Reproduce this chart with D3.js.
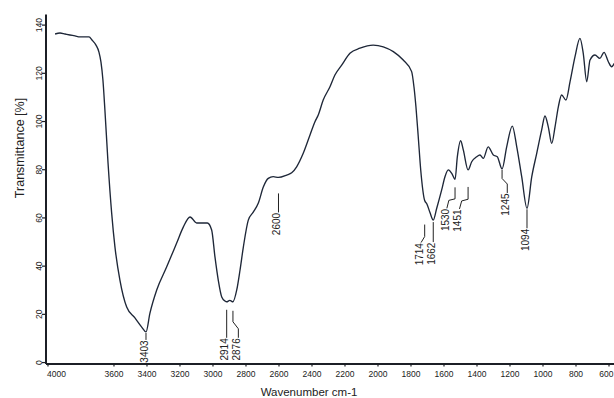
<!DOCTYPE html>
<html>
<head>
<meta charset="utf-8">
<script src="https://cdn.jsdelivr.net/npm/d3@7"></script>
<style>
  html, body { margin: 0; background: #fff; }
  svg { display: block; }
  text { font-family: Arial, "Liberation Sans", Helvetica, sans-serif; }
</style>
</head>
<body>
<svg id="chart" width="614" height="398"></svg>
<script>
// FTIR spectrum: wavenumber (cm-1) against transmittance (%)
const wavenumber = [
  3954, 3924, 3894, 3864, 3833, 3803, 3767, 3748, 3730, 3706,
  3688, 3676, 3664, 3652, 3633, 3611, 3591, 3561, 3520, 3470,
  3429, 3403, 3379, 3338, 3278, 3217, 3177, 3136, 3096, 3065,
  3031, 3005, 2985, 2965, 2944, 2924, 2914, 2895, 2876, 2853,
  2833, 2813, 2783, 2753, 2722, 2692, 2662, 2632, 2600, 2550,
  2520, 2490, 2450, 2409, 2379, 2359, 2329, 2288, 2258, 2217,
  2167, 2106, 2026, 1965, 1904, 1844, 1793, 1779, 1767, 1753,
  1738, 1714, 1700, 1682, 1662, 1641, 1611, 1591, 1571, 1550,
  1530, 1516, 1496, 1480, 1451, 1429, 1399, 1379, 1359, 1329,
  1298, 1274, 1245, 1217, 1183, 1156, 1126, 1094, 1065, 1035,
  1005, 985, 965, 944, 924, 904, 884, 858, 833, 803,
  773, 753, 732, 712, 682, 652, 627, 601, 581, 565
];
const transmittance = [
  136.1, 136.5, 136.1, 135.7, 135.3, 134.9, 134.9, 134.9, 133.6, 131.5,
  128.6, 124.5, 117.0, 104.6, 82.6, 61.8, 47.7, 34.0, 22.8, 18.3,
  14.5, 12.5, 20.3, 29.9, 39.4, 49.4, 56.0, 60.2, 57.7, 57.7,
  57.7, 54.8, 43.6, 34.0, 27.0, 25.3, 25.0, 25.6, 25.0, 29.9,
  38.2, 47.7, 58.9, 62.2, 66.0, 72.6, 76.2, 76.9, 76.6, 77.6,
  78.5, 81.0, 86.6, 94.2, 99.7, 102.5, 108.7, 114.2, 119.1, 123.2,
  128.1, 130.2, 131.5, 130.8, 128.8, 125.3, 120.5, 114.2, 105.9, 93.5,
  79.7, 67.0, 65.5, 62.0, 58.9, 63.8, 71.4, 76.9, 79.7, 78.3,
  75.8, 85.2, 91.8, 88.0, 79.7, 83.1, 85.2, 85.9, 84.5, 89.3,
  85.9, 85.2, 80.1, 89.3, 97.9, 89.3, 76.9, 63.8, 76.9, 86.6,
  96.3, 102.1, 97.6, 90.7, 97.6, 105.9, 110.8, 108.7, 116.3, 126.7,
  134.3, 128.1, 116.3, 125.3, 127.4, 126.0, 128.5, 124.6, 122.5, 123.9
];

const tickWavenumbers = [4000, 3600, 3400, 3200, 3000, 2800, 2600, 2400, 2200, 2000, 1800, 1600, 1400, 1200, 1000, 800, 600];
const tickTransmittance = [0, 20, 40, 60, 80, 100, 120, 140];

// Assigned bands
const peakLabels = ["3403", "2914", "2876", "2600", "1714", "1662", "1530", "1451", "1245", "1094"];
const peakWavenumbers = [3403, 2914, 2876, 2600, 1714, 1662, 1530, 1451, 1245, 1094];

// Leader-line layout for each band label (pixel offsets):
// shift = label x offset from band, drop = label top below curve,
// gap = space left above leader, lean/rise/bend = kink shape
const leaderLayout = [
  { shift: 0,    drop: 8,  gap: 1,  lean: 0,   rise: 0, bend: 0 },
  { shift: 0,    drop: 36, gap: 8,  lean: 0,   rise: 0, bend: 0 },
  { shift: 5.4,  drop: 36, gap: 9,  lean: 0,   rise: 9, bend: 7 },
  { shift: 0,    drop: 35, gap: 16, lean: 0,   rise: 0, bend: 0 },
  { shift: -3.6, drop: 42, gap: 24, lean: 0,   rise: 0, bend: 6 },
  { shift: 0,    drop: 22, gap: 2,  lean: 0,   rise: 0, bend: 0 },
  { shift: -8.2, drop: 29, gap: 8,  lean: 2,   rise: 8, bend: 1.5 },
  { shift: -8.6, drop: 39, gap: 17, lean: 2.2, rise: 8, bend: 1.7 },
  { shift: 5.2,  drop: 24, gap: 1,  lean: 0,   rise: 9, bend: 5.5 },
  { shift: 0,    drop: 20, gap: 1,  lean: 0,   rise: 0, bend: 0 }
];

const svg = d3.select("#chart");
const ink = "#1c1f26";

const x = d3.scaleLinear().domain([4012, 560]).range([45.5, 615.1]);
const y = d3.scaleLinear().domain([-0.6, 144.4]).range([363.5, 14]);

// X axis
const xAxis = svg.append("g")
  .attr("transform", `translate(0,${y(-0.6)})`)
  .call(d3.axisBottom(x).tickValues(tickWavenumbers).tickFormat(d3.format("d"))
    .tickSize(3).tickPadding(4.5).tickSizeOuter(0));
xAxis.select(".domain").attr("stroke", ink).attr("stroke-width", 2);
xAxis.selectAll(".tick line").attr("stroke", ink).attr("stroke-width", 1.2);
const xLabels = xAxis.selectAll(".tick text")
  .attr("fill", "#222").attr("font-size", 8.5)
  .attr("font-family", "Arial, 'Liberation Sans', sans-serif");
// first label starts at its tick, last one is kept inside the right edge
xLabels.filter(d => d === 4000).attr("text-anchor", "start").attr("x", -1);
xLabels.filter(d => d === 600).attr("text-anchor", "end").attr("x", 613 - x(600));

// Y axis
const yAxis = svg.append("g")
  .attr("transform", `translate(${x(4012)},0)`)
  .call(d3.axisLeft(y).tickValues(tickTransmittance).tickSize(3.5).tickSizeOuter(0).tickFormat(d3.format("d")));
yAxis.select(".domain").attr("stroke", ink).attr("stroke-width", 2);
yAxis.selectAll(".tick line").attr("stroke", ink).attr("stroke-width", 1.2);
yAxis.selectAll(".tick text")
  .attr("x", null).attr("dy", null)
  .attr("fill", "#222").attr("font-size", 8.5)
  .attr("font-family", "Arial, 'Liberation Sans', sans-serif")
  .attr("text-anchor", "middle")
  .attr("transform", "translate(-3.5,0) rotate(-90)");

// Axis titles
svg.append("text")
  .attr("transform", "translate(24,148) rotate(-90)")
  .attr("text-anchor", "middle")
  .attr("font-size", 12.5).attr("fill", "#222")
  .text("Transmittance [%]");

svg.append("text")
  .attr("x", 309).attr("y", 396)
  .attr("text-anchor", "middle")
  .attr("font-size", 11.5).attr("fill", "#222")
  .text("Wavenumber cm-1");

// Spectrum trace
const points = wavenumber.map((w, i) => [w, transmittance[i]]);
svg.append("path")
  .datum(points)
  .attr("fill", "none")
  .attr("stroke", "#1e2738")
  .attr("stroke-width", 1.35)
  .attr("stroke-linejoin", "round")
  .attr("d", d3.line().x(d => x(d[0])).y(d => y(d[1])).curve(d3.curveMonotoneX));

// Band labels with leader lines
const valueAt = w => transmittance[wavenumber.indexOf(w)];
const labels = svg.append("g");
peakWavenumbers.forEach((w, i) => {
  const L = leaderLayout[i];
  const px = x(w);
  const cy = y(valueAt(w));
  const top = cy + L.drop;
  const lx = px + L.shift;
  const path = [
    [lx, top],
    [lx + L.lean, top - L.rise],
    [px, top - L.rise - L.bend],
    [px, cy + L.gap]
  ];
  labels.append("path")
    .attr("d", d3.line()(path))
    .attr("fill", "none")
    .attr("stroke", "#222")
    .attr("stroke-width", 1);
  labels.append("text")
    .attr("transform", `translate(${lx + 1.8},${top + 0.5}) rotate(-90)`)
    .attr("text-anchor", "end")
    .attr("font-size", 10)
    .attr("fill", "#222")
    .text(peakLabels[i]);
});
</script>
</body>
</html>
